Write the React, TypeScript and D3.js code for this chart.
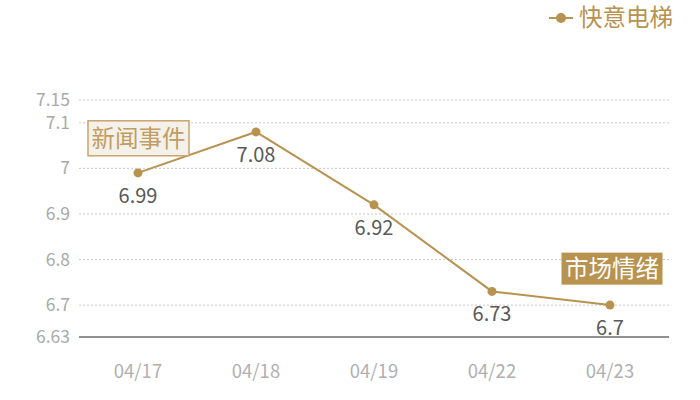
import React from "react";
import * as d3 from "d3";

const categories = ["04/17", "04/18", "04/19", "04/22", "04/23"];
const values = [6.99, 7.08, 6.92, 6.73, 6.7];
const yTicks = [6.63, 6.7, 6.8, 6.9, 7, 7.1, 7.15];
const seriesName = "快意电梯";
const annotations = [
  { text: "新闻事件", cat: "04/17", value: 7.066, style: "light" },
  { text: "市场情绪", cat: "04/23", value: 6.78, style: "dark" },
];

const W = 700;
const H = 400;
const FONT = "'Noto Sans CJK SC', 'Noto Sans', sans-serif";
const GOLD = "#b8924f";

export default function App() {
  const x = d3.scaleBand<string>().domain(categories).range([79, 669]);
  const y = d3.scaleLinear().domain([6.63, 7.15]).range([337, 100]);
  const cx = (c: string) => (x(c) ?? 0) + x.bandwidth() / 2;
  const line = d3
    .line<number>()
    .x((_, i) => cx(categories[i]))
    .y((d) => y(d));

  return (
    <svg width={W} height={H} style={{ position: "absolute", left: 0, top: 0 }} fontFamily={FONT}>
      {yTicks.map((t) => (
        <g key={t}>
          {t !== 6.63 && (
            <line x1={79} x2={669} y1={y(t)} y2={y(t)} stroke="#c8c8c8" strokeDasharray="2,2" strokeWidth={1} />
          )}
          <text x={70} y={y(t)} dy="0.35em" textAnchor="end" fontSize={17.5} fill="#a9a9a9">
            {String(t)}
          </text>
        </g>
      ))}
      <line x1={79} x2={669} y1={y(6.63)} y2={y(6.63)} stroke="#222" strokeWidth={1} />
      {categories.map((c) => (
        <text key={c} x={cx(c)} y={372} dy="0.35em" textAnchor="middle" fontSize={18.5} fill="#b0b0b0">
          {c}
        </text>
      ))}
      <path d={line(values) ?? ""} fill="none" stroke={GOLD} strokeWidth={2} />
      {values.map((v, i) => (
        <g key={i}>
          <circle cx={cx(categories[i])} cy={y(v)} r={4.5} fill={GOLD} />
          <text x={cx(categories[i])} y={y(v) + 23} dy="0.35em" textAnchor="middle" fontSize={20} fill="#595959">
            {String(v)}
          </text>
        </g>
      ))}
      {annotations.map((a) => {
        const ax = cx(a.cat);
        const ay = y(a.value);
        const w = 101;
        const h = a.style === "light" ? 35 : 32;
        const light = a.style === "light";
        const left = light ? 88 : ax - w / 2 + 2;
        return (
          <g key={a.text}>
            <rect
              x={left}
              y={ay - h / 2}
              width={w}
              height={h}
              fill={light ? "#f4f0ea" : GOLD}
              stroke={light ? "#c9a56c" : "none"}
              strokeWidth={1.5}
            />
            <text x={left + w / 2} y={ay} dy="0.35em" textAnchor="middle" fontSize={23.5} fill={light ? "#c29d62" : "#ffffff"}>
              {a.text}
            </text>
          </g>
        );
      })}
      <g>
        <line x1={549} x2={573} y1={18} y2={18} stroke={GOLD} strokeWidth={2} />
        <circle cx={561} cy={18} r={5} fill={GOLD} />
        <text x={579} y={18} dy="0.35em" fontSize={23.5} fill={GOLD}>
          {seriesName}
        </text>
      </g>
    </svg>
  );
}
